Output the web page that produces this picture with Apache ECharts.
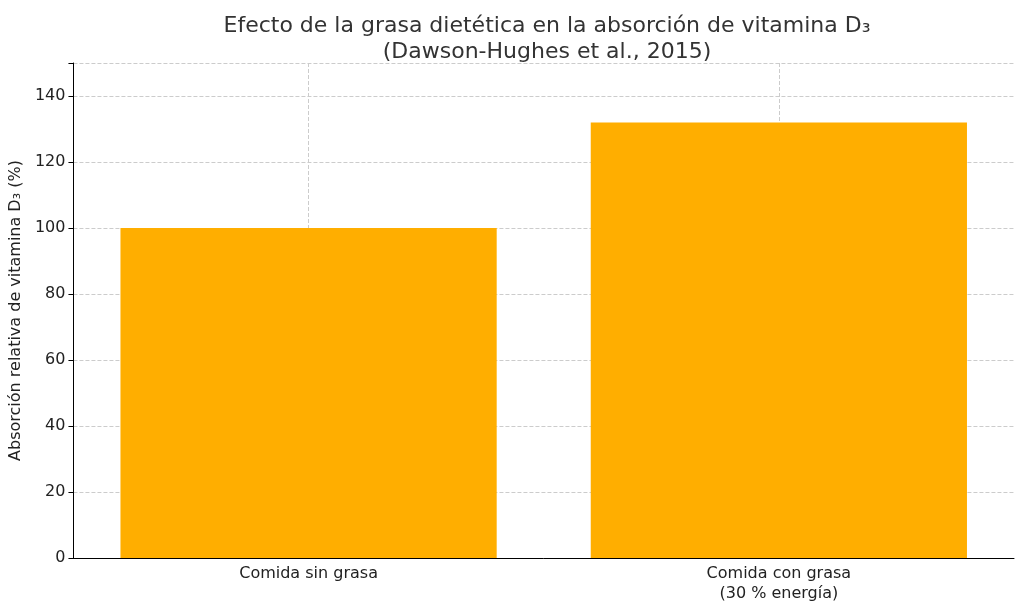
<!DOCTYPE html>
<html><head><meta charset="utf-8">
<script src="https://cdn.jsdelivr.net/npm/echarts@6/dist/echarts.min.js"></script>
<style>html,body{margin:0;padding:0;background:#fff}#c{width:1024px;height:611px}</style>
</head><body><div id="c"></div>
<script>
const categories = ['Comida sin grasa', 'Comida con grasa\n(30 % energía)'];
const values = [100, 132];
const yTicks = [0, 20, 40, 60, 80, 100, 120, 140];
const chart = echarts.init(document.getElementById('c'));
const font = 'DejaVu Sans';
chart.setOption({
  animation: false,
  title: {
    text: 'Efecto de la grasa dietética en la absorción de vitamina D₃\n(Dawson-Hughes et al., 2015)',
    left: 542, top: 8, textAlign: 'center',
    textStyle: {fontFamily: font, fontSize: 22, fontWeight: 'normal', color: '#333', lineHeight: 26}
  },
  grid: {left: 71, right: 10, top: 63, bottom: 53, containLabel: false},
  xAxis: [{
    type: 'category', data: categories,
    axisLine: {lineStyle: {color: '#000'}},
    axisTick: {show: false},
    axisLabel: {fontFamily: font, fontSize: 16, color: '#222', margin: 6, lineHeight: 20},
    splitLine: {show: false}
  }, {
    type: 'category', data: ['a','b','c','d','e'], boundaryGap: false, position: 'bottom',
    axisLine: {show: false}, axisTick: {show: false}, axisLabel: {show: false},
    splitLine: {show: true, interval: (i) => i === 1 || i === 3, lineStyle: {color: '#ccc', type: 'dashed'}}
  }],
  yAxis: {
    type: 'value', min: 0, max: 150, interval: 20,
    name: 'Absorción relativa de vitamina D₃ (%)', nameLocation: 'middle', nameGap: 46,
    nameTextStyle: {fontFamily: font, fontSize: 16, color: '#222'},
    axisLine: {show: true, lineStyle: {color: '#000'}},
    axisTick: {show: true, length: 5, lineStyle: {color: '#000'}},
    axisLabel: {fontFamily: font, fontSize: 16, color: '#222', formatter: v => yTicks.includes(v) ? String(v) : ''},
    splitLine: {show: true, lineStyle: {color: '#ccc', type: 'dashed'}}
  },
  series: [{
    type: 'bar', data: values, barWidth: '80%', xAxisIndex: 0,
    itemStyle: {color: '#FFAE00'}
  }]
});
</script></body></html>
